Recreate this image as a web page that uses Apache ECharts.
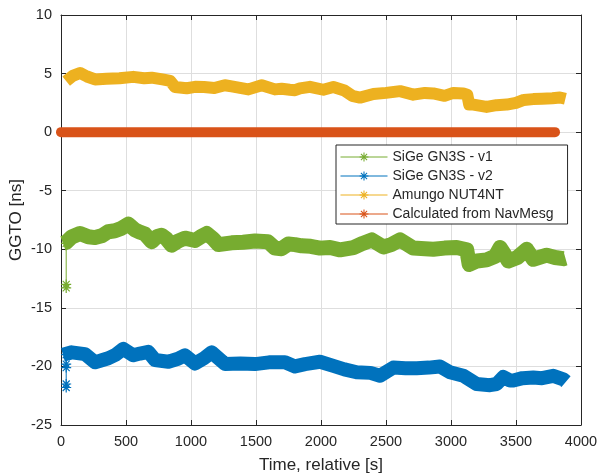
<!DOCTYPE html>
<html><head><meta charset="utf-8">
<script src="https://cdn.jsdelivr.net/npm/echarts@6/dist/echarts.min.js"></script>
<style>html,body{margin:0;padding:0;background:#fff}#c{width:600px;height:475px}</style>
</head><body><div id="c"></div>
<script>
// ---- data ----
const seriesNames = ['SiGe GN3S - v1', 'SiGe GN3S - v2', 'Amungo NUT4NT', 'Calculated from NavMesg'];
const xTickStep = 500, xMin = 0, xMax = 4000;
const yTickStep = 5, yMin = -25, yMax = 10;

const v1Start = [[40, -9.5], [40, -13.0], [40, -13.3]];
const v1 = [[15,-9.5],[40,-9.4],[82,-8.95],[146,-8.65],[210,-8.93],[262,-9.0],[313,-8.85],[364,-8.5],[415,-8.42],[467,-8.2],[518,-7.85],[569,-8.35],[610,-8.55],[646,-8.7],[697,-9.35],[740,-8.9],[774,-8.8],[810,-9.1],[851,-9.65],[900,-9.3],[954,-9.05],[1031,-9.25],[1080,-8.9],[1121,-8.65],[1170,-9.1],[1210,-9.6],[1313,-9.45],[1400,-9.4],[1492,-9.3],[1592,-9.36],[1646,-9.9],[1697,-9.95],[1749,-9.55],[1800,-9.6],[1851,-9.7],[1920,-9.75],[1992,-9.9],[2070,-9.85],[2146,-10.05],[2249,-9.85],[2320,-9.5],[2390,-9.2],[2479,-9.8],[2540,-9.6],[2608,-9.2],[2710,-9.9],[2800,-9.95],[2864,-10.0],[2950,-9.9],[3044,-9.85],[3121,-10.05],[3140,-11.3],[3200,-11.0],[3274,-10.9],[3340,-10.6],[3377,-9.85],[3410,-10.4],[3441,-11.0],[3510,-10.7],[3582,-10.0],[3633,-10.85],[3736,-10.5],[3800,-10.7],[3864,-10.8],[3880,-10.75]];

const v2Start = [[40, -19.0], [40, -19.8], [40, -20.1], [40, -21.5], [40, -21.8]];
const v2 = [[15,-19.0],[82,-18.8],[185,-18.95],[262,-19.65],[320,-19.45],[364,-19.3],[420,-19.0],[479,-18.5],[556,-19.05],[608,-18.9],[672,-18.75],[723,-19.45],[826,-19.6],[900,-19.35],[954,-19.05],[1031,-19.75],[1100,-19.3],[1159,-18.8],[1262,-19.8],[1380,-19.75],[1492,-19.8],[1600,-19.65],[1723,-19.65],[1800,-20.0],[1877,-19.8],[1992,-19.6],[2095,-19.95],[2180,-20.25],[2274,-20.5],[2380,-20.55],[2454,-20.8],[2556,-20.1],[2650,-20.15],[2736,-20.15],[2830,-20.1],[2915,-20.0],[2992,-20.5],[3095,-20.8],[3197,-21.5],[3300,-21.6],[3351,-21.5],[3402,-20.9],[3454,-21.2],[3479,-21.2],[3550,-21.0],[3633,-20.95],[3700,-21.0],[3787,-20.8],[3864,-21.1],[3885,-21.3]];

const amungo = [[40,4.35],[90,4.8],[146,5.05],[200,4.75],[262,4.5],[350,4.55],[450,4.6],[556,4.72],[640,4.6],[697,4.65],[780,4.5],[840,4.38],[877,3.85],[967,3.75],[1031,3.87],[1100,3.85],[1180,3.77],[1260,4.0],[1313,3.9],[1441,3.65],[1544,4.0],[1646,3.65],[1697,3.7],[1760,3.62],[1800,3.58],[1838,3.73],[1915,3.87],[2018,3.62],[2095,3.85],[2180,3.55],[2240,3.1],[2300,2.95],[2403,3.25],[2500,3.35],[2608,3.5],[2710,3.2],[2800,3.35],[2864,3.3],[2950,3.1],[3018,3.35],[3095,3.3],[3125,3.2],[3140,2.35],[3172,2.35],[3274,2.15],[3350,2.3],[3428,2.35],[3500,2.5],[3560,2.75],[3633,2.82],[3700,2.85],[3780,2.9],[3838,2.96],[3880,2.85]];

const navMesg = [[0, 0], [3800, 0]];

// ---- styling ----
const colors = ['#77AC30', '#0072BD', '#EDB120', '#D95319'];
const FONT = 'Arial, "Liberation Sans", Helvetica, sans-serif';
const INK = '#262626';
const STAR = 'path://M8.8,0L11.2,0L11.2,20L8.8,20ZM0,8.8L20,8.8L20,11.2L0,11.2ZM3.85,2.15L17.85,16.15L16.15,17.85L2.15,3.85ZM3.85,17.85L2.15,16.15L16.15,2.15L17.85,3.85Z';

function band(name, data, color, width, extra) {
  return Object.assign({
    name, type: 'line', data, symbol: STAR, symbolSize: 9, showSymbol: false,
    lineStyle: { color, width, join: 'round', cap: 'butt' },
    itemStyle: { color, borderWidth: 0 },
    emphasis: { disabled: true }, silent: true, z: 3
  }, extra || {});
}
function spike(name, data, color) {
  return {
    name, type: 'line', data, symbol: STAR, symbolSize: 10, showSymbol: true, showAllSymbol: true,
    lineStyle: { color, width: 1 }, itemStyle: { color, borderWidth: 0 },
    emphasis: { disabled: true }, silent: true, z: 2
  };
}

const axisCommon = {
  axisLine: { show: true, onZero: false, lineStyle: { color: INK, width: 1 } },
  axisTick: { show: true, inside: true, length: 5, lineStyle: { color: INK } }
};
const plain = v => String(v);

const chart = echarts.init(document.getElementById('c'), null, { renderer: 'canvas' });
chart.setOption({
  animation: false,
  textStyle: { fontFamily: FONT },
  grid: { left: 61, right: 19, top: 15, bottom: 50, containLabel: false, outerBoundsMode: 'none' },
  xAxis: [
    Object.assign({
      type: 'value', min: xMin, max: xMax, interval: xTickStep, position: 'bottom',
      axisLabel: { margin: 9, fontSize: 14.5, color: INK, fontFamily: FONT, formatter: plain },
      splitLine: { show: true, lineStyle: { color: '#dedede', width: 1 } },
      name: 'Time, relative [s]', nameLocation: 'middle', nameGap: 32, nameMoveOverlap: false,
      nameTextStyle: { fontSize: 17, color: INK, fontFamily: FONT }
    }, axisCommon),
    Object.assign({
      type: 'value', min: xMin, max: xMax, interval: xTickStep, position: 'top',
      axisLabel: { show: false }, splitLine: { show: false }
    }, axisCommon)
  ],
  yAxis: [
    Object.assign({
      type: 'value', min: yMin, max: yMax, interval: yTickStep, position: 'left',
      axisLabel: { margin: 9, fontSize: 14.5, color: INK, fontFamily: FONT, formatter: plain },
      splitLine: { show: true, lineStyle: { color: '#dedede', width: 1 } },
      name: 'GGTO [ns]', nameLocation: 'middle', nameGap: 36, nameMoveOverlap: false,
      nameTextStyle: { fontSize: 17, color: INK, fontFamily: FONT }
    }, axisCommon),
    Object.assign({
      type: 'value', min: yMin, max: yMax, interval: yTickStep, position: 'right',
      axisLabel: { show: false }, splitLine: { show: false }
    }, axisCommon)
  ],
  legend: {
    data: seriesNames, orient: 'vertical', left: 336, top: 145,
    padding: [5, 14, 3, 4], itemWidth: 47, itemHeight: 11, itemGap: 5,
    textStyle: { fontSize: 14, color: INK, fontFamily: FONT, lineHeight: 14 },
    backgroundColor: '#ffffff', borderColor: INK, borderWidth: 1, borderRadius: 0,
    lineStyle: { width: 1 }, itemStyle: { borderWidth: 0 },
    selectedMode: false, z: 10
  },
  series: [
    spike(seriesNames[0], v1Start, colors[0]),
    spike(seriesNames[1], v2Start, colors[1]),
    band(seriesNames[0], v1, colors[0], 15),
    band(seriesNames[1], v2, colors[1], 14),
    band(seriesNames[2], amungo, colors[2], 12),
    band(seriesNames[3], navMesg, colors[3], 10, { clip: false, lineStyle: { color: colors[3], width: 10, cap: 'round' } })
  ]
});
</script></body></html>
